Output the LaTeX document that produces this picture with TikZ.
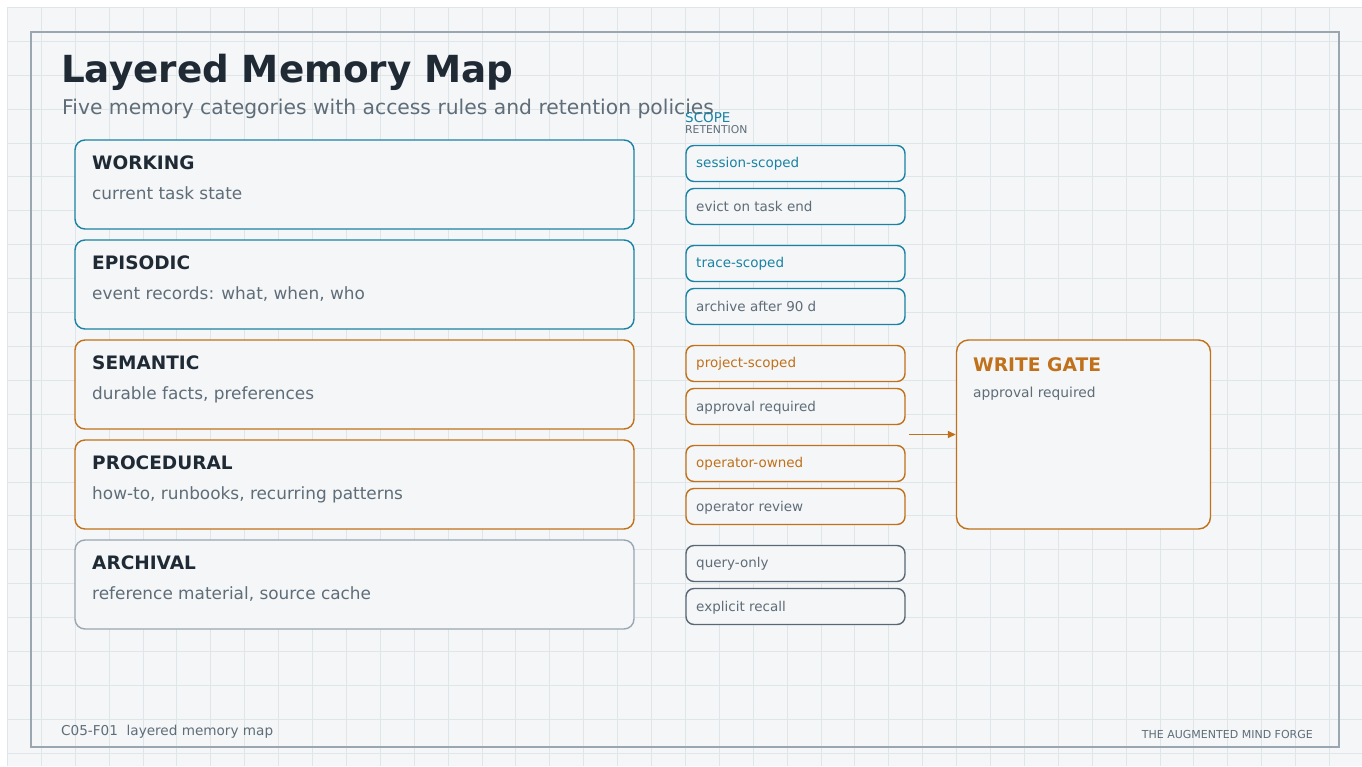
\documentclass[tikz,border=0pt]{standalone}
\usepackage{fontspec}
\setmainfont{DejaVu Sans}
\usetikzlibrary{arrows.meta}
\definecolor{pagebg}{HTML}{F4F6F8}
\definecolor{gridc}{HTML}{DEE6EA}
\definecolor{framec}{HTML}{9AA6B0}
\definecolor{ink}{HTML}{1F2A35}
\definecolor{muted}{HTML}{5F6D78}
\definecolor{tealc}{HTML}{1A82A3}
\definecolor{orangec}{HTML}{C0711A}
\definecolor{slatec}{HTML}{5A6873}
\definecolor{lightslate}{HTML}{9AA7B2}
\newcommand{\fs}[1]{\fontsize{#1}{#1}\selectfont}
\tikzset{
  catbox/.style={draw, fill=pagebg, rounded corners=10pt, line width=1.4pt,
    minimum width=559pt, minimum height=89pt, inner sep=0pt},
  tagbox/.style={draw, fill=pagebg, rounded corners=8pt, line width=1.4pt,
    minimum width=219pt, minimum height=36pt, inner sep=0pt},
  gatebox/.style={draw=orangec, fill=pagebg, rounded corners=12pt, line width=1.4pt,
    minimum width=254pt, minimum height=189pt, inner sep=0pt},
  txt/.style={anchor=base west, inner sep=0pt},
  cattitle/.style={txt, text=ink, font=\fs{18.5}\bfseries},
  catdesc/.style={txt, text=muted, font=\fs{16.9}},
  tagtxt/.style={txt, font=\fs{13.5}},
}
\begin{document}
\begin{tikzpicture}[x=1pt,y=-1pt]
\useasboundingbox (0,0) rectangle (1362,766);
\fill[white] (0,0) rectangle (1362,766);
\fill[pagebg] (7,7) rectangle (1362,766);
% background grid
\foreach \i in {0,...,40} \draw[gridc, line width=0.8pt] ({7.3+33.9*\i},7) -- ({7.3+33.9*\i},766);
\foreach \j in {0,...,22} \draw[gridc, line width=0.8pt] (7,{7.3+33.9*\j}) -- (1362,{7.3+33.9*\j});
% frame
\draw[framec, line width=1.6pt] (31,32) rectangle (1339,747);

% heading
\node[txt, text=ink, font=\fs{37.3}\bfseries] (title) at (61,82) {Layered Memory Map};
\node[txt, text=muted, font=\fs{20.3}] (subtitle) at (62,114) {Five memory categories with access rules and retention policies};

% column headers
\node[txt, text=tealc, font=\fs{13.5}] (scopeH) at (685,122) {SCOPE};
\node[txt, text=muted, font=\fs{10.8}] (retH) at (685,133.5) {RETENTION};

% memory categories
\node[catbox, draw=tealc] (working) at (354.5,184.5) {};
\node[catbox, draw=tealc] (episodic) at (354.5,284.5) {};
\node[catbox, draw=orangec] (semantic) at (354.5,384.5) {};
\node[catbox, draw=orangec] (procedural) at (354.5,484.5) {};
\node[catbox, draw=lightslate] (archival) at (354.5,584.5) {};

\node[cattitle] (workingT) at (92,169) {WORKING};
\node[catdesc] (workingD) at (92,199) {current task state};
\node[cattitle] (episodicT) at (92,269) {EPISODIC};
\node[catdesc] (episodicD) at (92,299) {event records: what, when, who};
\node[cattitle] (semanticT) at (92,369) {SEMANTIC};
\node[catdesc] (semanticD) at (92,399) {durable facts, preferences};
\node[cattitle] (proceduralT) at (92,469) {PROCEDURAL};
\node[catdesc] (proceduralD) at (92,499) {how-to, runbooks, recurring patterns};
\node[cattitle] (archivalT) at (92,569) {ARCHIVAL};
\node[catdesc] (archivalD) at (92,599) {reference material, source cache};

% scope / retention tags
\node[tagbox, draw=tealc] (s1) at (795.5,163.5) {};
\node[tagbox, draw=tealc] (r1) at (795.5,206.5) {};
\node[tagbox, draw=tealc] (s2) at (795.5,263.5) {};
\node[tagbox, draw=tealc] (r2) at (795.5,306.5) {};
\node[tagbox, draw=orangec] (s3) at (795.5,363.5) {};
\node[tagbox, draw=orangec] (r3) at (795.5,406.5) {};
\node[tagbox, draw=orangec] (s4) at (795.5,463.5) {};
\node[tagbox, draw=orangec] (r4) at (795.5,506.5) {};
\node[tagbox, draw=slatec] (s5) at (795.5,563.5) {};
\node[tagbox, draw=slatec] (r5) at (795.5,606.5) {};

\node[tagtxt, text=tealc] at (696,167) {session-scoped};
\node[tagtxt, text=muted] at (696,211) {evict on task end};
\node[tagtxt, text=tealc] at (696,267) {trace-scoped};
\node[tagtxt, text=muted] at (696,311) {archive after 90 d};
\node[tagtxt, text=orangec] at (696,367) {project-scoped};
\node[tagtxt, text=muted] at (696,411) {approval required};
\node[tagtxt, text=orangec] at (696,467) {operator-owned};
\node[tagtxt, text=muted] at (696,511) {operator review};
\node[tagtxt, text=muted] at (696,567) {query-only};
\node[tagtxt, text=muted] at (696,611) {explicit recall};

% write gate
\node[gatebox] (gate) at (1083.5,434.5) {};
\node[txt, text=orangec, font=\fs{18.7}\bfseries] (gateT) at (973,371) {WRITE GATE};
\node[txt, text=muted, font=\fs{13.8}] (gateD) at (973,397) {approval required};
\coordinate (gatein) at (909,434.5);
\draw[orangec, line width=1.4pt, -{Triangle[length=8pt,width=7pt]}] (gatein) -- (gatein -| gate.west);

% footer
\node[txt, text=muted, font=\fs{13.6}] (fig) at (61,735) {C05-F01\ \ layered memory map};
\node[anchor=base east, inner sep=0pt, text=muted, font=\fs{11}] (brand) at (1313,738) {THE AUGMENTED MIND FORGE};
\end{tikzpicture}
\end{document}
